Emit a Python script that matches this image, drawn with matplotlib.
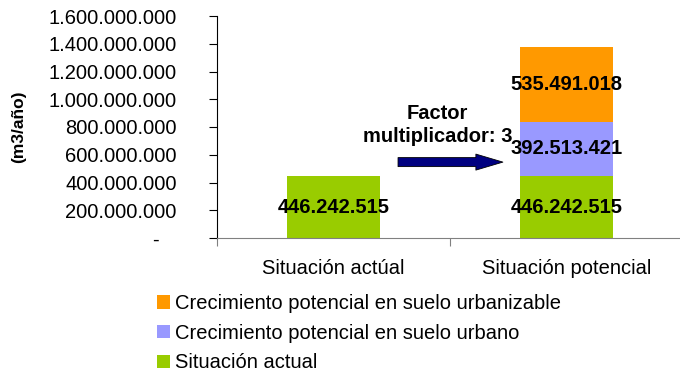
import matplotlib.pyplot as plt
from matplotlib.ticker import FuncFormatter

plt.rcParams['font.family'] = ['Liberation Sans', 'DejaVu Sans']

# DATA
categorias = ['Situación actúal', 'Situación potencial']
actual = [446242515, 446242515]
suelo_urbano = [0, 392513421]
suelo_urbanizable = [0, 535491018]
series = ['Situación actual',
          'Crecimiento potencial en suelo urbano',
          'Crecimiento potencial en suelo urbanizable']
colores = ['#99CC00', '#9999FF', '#FF9900']

FS = 14.5


def miles(v, pos=None):
    if v == 0:
        return '-   '
    return f'{v:,.0f}'.replace(',', '.')


fig = plt.figure(figsize=(6.8, 3.76), dpi=100)
ax = fig.add_axes([217/680, 1 - 238/376, 466/680, 222/376])

x = range(len(categorias))
base = [0] * len(categorias)
for vals, nombre, col in zip([actual, suelo_urbano, suelo_urbanizable], series, colores):
    ax.bar(x, vals, width=0.4, bottom=base, color=col, label=nombre)
    for i, v in enumerate(vals):
        if v > 0:
            ax.text(i, base[i] + v / 2, miles(v), ha='center', va='center',
                    fontsize=FS, fontweight='bold')
    base = [b + v for b, v in zip(base, vals)]

# factor between the two scenarios
factor = base[1] / base[0]
ax.annotate('', xy=(0.727, 547e6), xytext=(0.277, 547e6),
            arrowprops=dict(arrowstyle='simple,head_length=1.35,head_width=0.8,tail_width=0.45',
                            mutation_scale=14.4, fc='#000080', ec='black', lw=0.6,
                            shrinkA=0, shrinkB=0))
ax.text(0.446, 814e6, f'Factor\nmultiplicador: {factor:.0f}', ha='center', va='center',
        fontsize=FS, fontweight='bold', linespacing=1.25)

ax.set_xlim(-0.5, 1.5)
ax.set_ylim(0, 1.6e9)
ax.set_yticks([i * 200e6 for i in range(9)])
ax.yaxis.set_major_formatter(FuncFormatter(miles))
ax.tick_params(axis='y', labelsize=FS, length=6, pad=23, direction='out')

ax.set_xticks([-0.5, 0.5, 1.5])
ax.set_xticklabels([])
ax.set_xticks(list(x), minor=True)
ax.set_xticklabels(categorias, minor=True)
ax.tick_params(axis='x', which='major', length=6, color='#808080')
ax.tick_params(axis='x', which='minor', length=0, labelsize=FS, pad=15)

ax.spines['top'].set_visible(False)
ax.spines['right'].set_visible(False)
ax.spines['bottom'].set_color('#808080')

ax.set_ylabel('(m3/año)', fontsize=12.5, fontweight='bold')
ax.yaxis.set_label_coords(-0.41, 0.5)

h, l = ax.get_legend_handles_labels()
fig.legend(h[::-1], l[::-1], loc='upper left', bbox_to_anchor=(157/680, 1 - 294/376),
           frameon=False, fontsize=FS, handlelength=0.65, handleheight=0.65,
           handletextpad=0.25, labelspacing=0.53, borderpad=0, borderaxespad=0)

fig.savefig('out.png', dpi=100)
